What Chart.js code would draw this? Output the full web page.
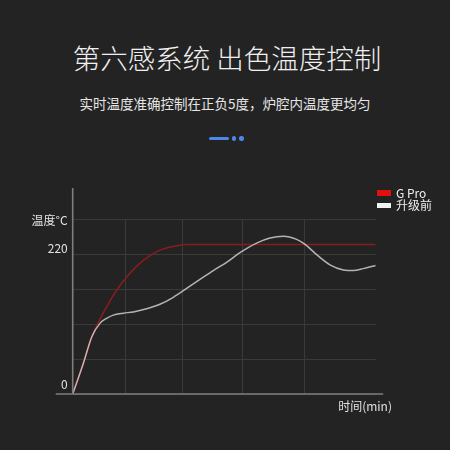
<!DOCTYPE html>
<html>
<head>
<meta charset="utf-8">
<script src="https://cdn.jsdelivr.net/npm/chart.js@4/dist/chart.umd.min.js"></script>
<style>
 html,body{margin:0;padding:0;background:#232323;}
 #wrap{position:relative;width:450px;height:450px;overflow:hidden;background:#232323;font-family:"Noto Sans CJK SC","Noto Sans",sans-serif;color:#eee;}
 .t{position:absolute;left:0;width:450px;text-align:center;white-space:nowrap;}
 #title{top:38px;font-size:27.5px;line-height:38px;font-weight:300;color:#f0f0f0;padding-left:4px;box-sizing:border-box;}
 #sub{top:93px;font-size:13.5px;line-height:20px;color:#e6e6e6;}
 .dash{position:absolute;left:209px;top:136.5px;width:20px;height:3px;border-radius:2px;background:#4f86ee;}
 .dot{position:absolute;top:136px;width:4.5px;height:4.5px;border-radius:50%;background:#4f86ee;}
 #chart{position:absolute;left:0;top:0;}
 #legend{position:absolute;left:376.7px;top:186.5px;font-size:12px;line-height:12.7px;color:#eee;}
 #legend div{position:relative;height:12.7px;padding-left:19.3px;white-space:nowrap;}
 #legend span{position:absolute;left:0;top:3.5px;width:14px;height:5.5px;}
 #xtitle{position:absolute;right:58px;top:398px;font-size:12px;line-height:16px;color:#e0e0e0;}
</style>
</head>
<body>
<div id="wrap">
 <div class="t" id="title">第六感系统 出色温度控制</div>
 <div class="t" id="sub">实时温度准确控制在正负5度，炉腔内温度更均匀</div>
 <div class="dash"></div><div class="dot" style="left:231.5px"></div><div class="dot" style="left:239px"></div>
 <canvas id="chart" width="450" height="450"></canvas>
 <div id="legend"></div>
 <div id="xtitle">时间(min)</div>
</div>
<script>
// series names
const seriesNames = ['G Pro', '升级前'];
// G Pro: time (axis units) and temperature
const timeGPro = [0, 3.5, 6.8, 11.2, 14.5, 17.8, 23.3, 28.8, 34.3, 38, 50, 70, 100];
const tempGPro = [0, 48, 95, 137, 163, 184, 210, 226, 233, 235, 235, 235, 235];
// before upgrade
const timeOld = [0, 3.5, 6.3, 9.0, 11.2, 13.4, 16.7, 20.0, 24.4, 28.8, 33.2, 37.6, 42.0, 46.4, 50.8, 55.2, 60.7, 65.1, 69.5, 73.9, 76.7, 80.5, 84.9, 89.3, 92.6, 95.9, 100];
const tempOld = [0, 48, 90, 111, 119, 124, 127, 129, 134, 141, 152, 166, 180, 194, 207, 222, 237, 245, 248, 243, 235, 219, 203, 195, 194, 197, 202];
// axis ticks: grid lines, and the labels which sit a little off them
const timeTicks = [17.5, 36.3, 56, 76.4];
const tempGrid = [0, 55, 110, 165, 220, 275];
const tempLabelAt = [15.7, 228, 272.3];
const tempLabels = ['0', '220', '温度°C'];

const pts = (xs, ys) => xs.map((x, i) => ({x, y: ys[i]}));
const legendColors = ['#e01010', '#f2f2f2'];
const yTicks = tempGrid.map(v => ({value: v, label: '', grid: true}))
 .concat(tempLabelAt.map((v, i) => ({value: v, label: tempLabels[i], grid: false})))
 .sort((a, b) => a.value - b.value);

// axis lines run a bit past the plot like the original
const axisLines = {
 id: 'axisLines',
 afterDraw(c){
  const a = c.chartArea, ctx = c.ctx;
  ctx.save();
  ctx.strokeStyle = '#7e7e7e'; ctx.lineWidth = 1.6;
  ctx.beginPath();
  ctx.moveTo(a.left - 17, a.bottom); ctx.lineTo(a.right + 7.5, a.bottom);
  ctx.moveTo(a.left, a.top - 31); ctx.lineTo(a.left, a.bottom);
  ctx.stroke();
  ctx.restore();
 }
};

const chart = new Chart(document.getElementById('chart'), {
 type: 'line',
 data: {
  datasets: [
   {label: seriesNames[0], data: pts(timeGPro, tempGPro), borderColor: '#8c1b1f', borderWidth: 1.5, pointRadius: 0, cubicInterpolationMode: 'monotone', order: 1},
   {label: seriesNames[1], data: pts(timeOld, tempOld), borderColor: 'rgba(235,235,235,0.72)', borderWidth: 1.5, pointRadius: 0, cubicInterpolationMode: 'monotone', order: 0}
  ]
 },
 options: {
  responsive: false, animation: false,
  layout: {padding: {left: 0, top: 219, right: 74.3, bottom: 56}},
  plugins: {legend: {display: false}, tooltip: {enabled: false}},
  scales: {
   x: {
    type: 'linear', min: 0, max: 100,
    afterBuildTicks: s => { s.ticks = timeTicks.map(v => ({value: v})); },
    ticks: {display: false},
    grid: {color: '#3a3a3a', lineWidth: 1, drawTicks: false},
    border: {display: false}
   },
   y: {
    min: 0, max: 275,
    afterBuildTicks: s => { s.ticks = yTicks.map(t => ({value: t.value})); },
    afterFit: s => { s.width = 72.7; },
    ticks: {
     padding: 5, color: '#e2e2e2',
     font: {family: '"Noto Sans CJK SC", "Noto Sans", sans-serif', size: 12},
     callback: (v, i) => yTicks[i].label
    },
    grid: {color: ctx => (yTicks[ctx.index] && yTicks[ctx.index].grid) ? '#3a3a3a' : 'rgba(0,0,0,0)', lineWidth: 1, drawTicks: false},
    border: {display: false}
   }
  }
 },
 plugins: [axisLines]
});

// legend built from the datasets
document.getElementById('legend').innerHTML = chart.data.datasets.map((d, i) =>
 '<div><span style="background:' + legendColors[i] + '"></span>' + d.label + '</div>').join('');
</script>
</body>
</html>
